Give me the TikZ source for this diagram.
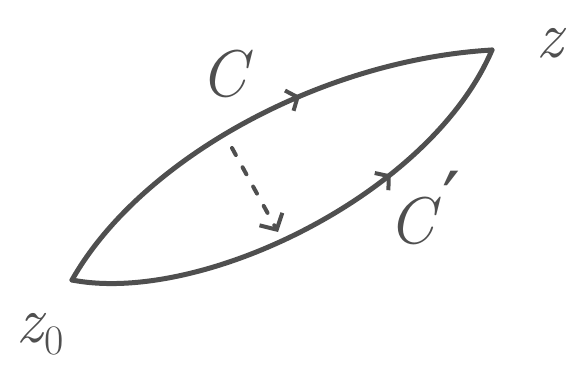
\documentclass[tikz,border=0pt]{standalone}
\usepackage{amsmath,amssymb}
\usepackage{fontspec}
\newfontfamily\primefont{DejaVu Sans}
\usepackage{tikz}
\usetikzlibrary{arrows.meta,decorations.markings}
\definecolor{pen}{HTML}{4F4F4F}
\begin{document}
\begin{tikzpicture}[x=1pt,y=-1pt]
        \useasboundingbox (0,0) rectangle (579,366);
        \tikzset{path/.style={draw=pen, line width=5pt, line cap=round},
        tip/.style={postaction={decorate, decoration={markings,
        mark=at position #1 with {\arrow[pen, line width=4pt]{Straight Barb[length=9pt,width=22pt]}}}}},
        lbl/.style={text=pen, inner sep=0pt, font=\fontsize{66}{66}\selectfont\itshape}}
        \coordinate (z0) at (72,280);
        \coordinate (z) at (492,50);
        \coordinate (dstart) at (232,148);
        \coordinate (dend) at (278,232);
        % the two paths from z0 to z
        \draw[path, tip=0.6] (z0) .. controls (140,160) and (320,60) .. (z);
        \draw[path, tip=0.68] (z0) .. controls (200,305) and (430,195) .. (z);
        \draw[path, line width=4pt, dash pattern=on 8pt off 14pt, -{Straight Barb[length=12pt,width=26pt]}] (dstart) -- (dend);
        % labels
        \node[lbl] (C) at (224,74) {C};
        \node[lbl, anchor=base west] (Cp) at (388,244) {C\kern8pt\raisebox{14pt}{\upshape\primefont\fontsize{80}{80}\selectfont ′}};
        \node[lbl, anchor=base] (zlbl) at (550,58) {z};
        \node[lbl, anchor=base west] (z0lbl) at (16,343) {z\kern2pt\raisebox{-12pt}{\upshape\fontsize{42}{42}\selectfont 0}};
    \end{tikzpicture}
\end{document}
